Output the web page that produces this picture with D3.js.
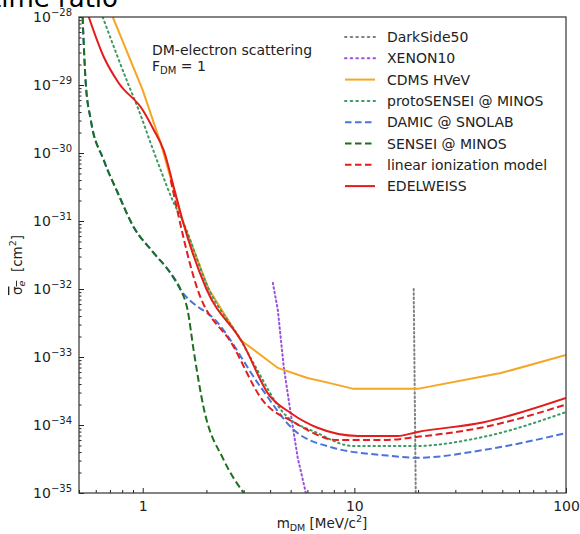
<!DOCTYPE html>
<html>
<head>
<meta charset="utf-8">
<script src="https://cdn.jsdelivr.net/npm/d3@7"></script>
<style>
  html, body { margin: 0; padding: 0; background: #fff; }
  svg { display: block; font-family: "DejaVu Sans", sans-serif; }
  text { fill: #222; }
</style>
</head>
<body>
<svg id="chart" width="580" height="534"></svg>
<script>
// Exclusion limits on the DM-electron cross section vs. DM mass (F_DM = 1)
const seriesNames = ["DarkSide50", "XENON10", "CDMS HVeV", "protoSENSEI @ MINOS",
  "DAMIC @ SNOLAB", "SENSEI @ MINOS", "linear ionization model", "EDELWEISS"];

// masses in MeV/c^2, cross sections in cm^2
const darkSideMass  = [19.07, 19.5];
const darkSideSigma = [1e-32, 1e-35];

const xenonMass  = [4.12, 4.35, 4.64, 5.0, 5.4, 5.9];
const xenonSigma = [1.23e-32, 4.9e-33, 7.1e-34, 1.5e-34, 3.3e-35, 1e-35];

const cdmsMass  = [0.722, 1.0, 1.216, 1.545, 2.05, 2.9, 4.35, 6.0, 7.5, 9.9, 19.9, 49.2, 100];
const cdmsSigma = [1e-28, 8.4e-30, 1.4e-30, 1e-31, 1e-32, 1.78e-33, 6.9e-34, 4.9e-34, 4.2e-34, 3.4e-34, 3.4e-34, 5.8e-34, 1.07e-33];

const protoMass  = [0.647, 0.85, 0.957, 1.09, 1.216, 1.386, 1.545, 2.05, 2.9, 3.34, 4.63, 6.7, 9.9, 19.0, 40.9, 100];
const protoSigma = [1e-28, 1.07e-29, 4.3e-30, 1.4e-30, 5.6e-31, 2e-31, 1e-31, 1e-32, 1.8e-33, 8.1e-34, 1.5e-34, 7.6e-35, 4.9e-35, 4.9e-35, 6.7e-35, 1.55e-34];

const damicMass  = [0.52, 0.538, 0.568, 0.654, 0.762, 0.907, 1.127, 1.356, 1.51, 2.26, 3.61, 5.17, 8.0, 13.7, 19.9, 40.9, 100];
const damicSigma = [1e-28, 1.07e-29, 3.1e-30, 7.9e-31, 2.6e-31, 8.1e-32, 3.4e-32, 1.7e-32, 9.8e-33, 3.2e-33, 3.6e-34, 8.5e-35, 4.6e-35, 3.6e-35, 3.3e-35, 4.3e-35, 7.6e-35];

const senseiMass  = [0.52, 0.538, 0.568, 0.654, 0.762, 0.907, 1.127, 1.356, 1.51, 1.63, 1.74, 1.94, 2.41, 3.0];
const senseiSigma = [1e-28, 1.07e-29, 3.1e-30, 7.9e-31, 2.6e-31, 8.1e-32, 3.4e-32, 1.7e-32, 9.8e-33, 4.9e-33, 1.26e-33, 1.8e-34, 3.1e-35, 1e-35];

const linearMass  = [1.356, 1.8, 2.66, 3.69, 5.17, 8.34, 13.8, 19.9, 40.9, 100];
const linearSigma = [4e-31, 1.07e-32, 1.5e-33, 2.3e-34, 1.1e-34, 6e-35, 6e-35, 6.7e-35, 9.3e-35, 2e-34];

const edelMass  = [0.556, 0.654, 0.77, 1.0, 1.127, 1.256, 1.40, 1.545, 2.0, 2.97, 3.94, 5.0, 6.7, 10.4, 16.0, 19.9, 40.9, 100];
const edelSigma = [1e-28, 2.6e-29, 1.07e-29, 4.3e-30, 2.2e-30, 1.1e-30, 3.2e-31, 1e-31, 1e-32, 1.6e-33, 2.8e-34, 1.5e-34, 9.1e-35, 6.9e-35, 6.9e-35, 7.9e-35, 1.1e-34, 2.5e-34];

const xTickValues = [1, 10, 100];
const xTickLabels = ["1", "10", "100"];
const yTickExponents = [-28, -29, -30, -31, -32, -33, -34, -35];

// line styles, in legend order
const styles = [
  { color: "#808080", dash: "1.5,2.8", curve: d3.curveLinear },
  { color: "#9a4fdc", dash: "1.5,3",   curve: d3.curveLinear },
  { color: "#f5a623", dash: null,      curve: d3.curveLinear },
  { color: "#3d9a62", dash: "1.5,3.6", curve: d3.curveMonotoneX },
  { color: "#4a74dc", dash: "7,3.4",   curve: d3.curveMonotoneX },
  { color: "#1c6f1c", dash: "7,3.4",   curve: d3.curveMonotoneX },
  { color: "#e41c1c", dash: "7,3.4",   curve: d3.curveMonotoneX },
  { color: "#e41c1c", dash: null,      curve: d3.curveMonotoneX }
];
const isDotted = st => st.dash && st.dash.startsWith("1.5");

const masses = [darkSideMass, xenonMass, cdmsMass, protoMass, damicMass, senseiMass, linearMass, edelMass];
const sigmas = [darkSideSigma, xenonSigma, cdmsSigma, protoSigma, damicSigma, senseiSigma, linearSigma, edelSigma];
const series = seriesNames.map((name, i) => ({
  name, style: styles[i],
  points: masses[i].map((m, j) => ({ m, s: sigmas[i][j] }))
}));

const svg = d3.select("#chart");
const plot = { left: 79, right: 566, top: 17, bottom: 493 };

const x = d3.scaleLog().domain([0.5, 100]).range([plot.left, plot.right]);
const y = d3.scaleLog().domain([1e-35, 1e-28]).range([plot.bottom, plot.top]);

// slide title above the chart, partly cut off by the top edge
svg.append("text").attr("x", 118).attr("y", 6.5).attr("text-anchor", "end")
  .attr("font-size", 26).style("fill", "#000").text("time ratio");

svg.append("clipPath").attr("id", "plotClip").append("rect")
  .attr("x", plot.left).attr("y", plot.top)
  .attr("width", plot.right - plot.left).attr("height", plot.bottom - plot.top);

// ticks (inward), log minor ticks included
const xMinor = [];
[0.1, 1, 10].forEach(d => { for (let k = 1; k < 10; k++) { const v = d * k; if (v >= 0.5 && v <= 100) xMinor.push(v); } });
svg.append("g").attr("transform", `translate(0,${plot.bottom})`)
  .call(d3.axisBottom(x).tickValues(xMinor.filter(v => !xTickValues.includes(v))).tickSize(-3).tickFormat(""))
  .call(g => g.select(".domain").remove())
  .call(g => g.selectAll("line").attr("stroke", "#222"));
svg.append("g").attr("transform", `translate(0,${plot.bottom})`)
  .call(d3.axisBottom(x).tickValues(xTickValues).tickSize(-5)
    .tickFormat((d, i) => xTickLabels[i]).tickPadding(8))
  .call(g => g.select(".domain").remove())
  .call(g => g.selectAll("line").attr("stroke", "#222"))
  .call(g => g.selectAll("text").attr("font-size", 14).attr("font-family", "DejaVu Sans").style("fill", "#222"));

const yMinor = [];
yTickExponents.slice(1).forEach(e => { for (let k = 2; k < 10; k++) yMinor.push(k * Math.pow(10, e)); });
svg.append("g").attr("transform", `translate(${plot.left},0)`)
  .call(d3.axisLeft(y).tickValues(yMinor).tickSize(-2.5).tickFormat(""))
  .call(g => g.select(".domain").remove())
  .call(g => g.selectAll("line").attr("stroke", "#222"));
svg.append("g").attr("transform", `translate(${plot.left},0)`)
  .call(d3.axisLeft(y).tickValues(yTickExponents.map(e => Math.pow(10, e))).tickSize(-5).tickFormat(""))
  .call(g => g.select(".domain").remove())
  .call(g => g.selectAll("line").attr("stroke", "#222"));
yTickExponents.forEach(e => {
  const t = svg.append("text").attr("x", 72).attr("y", y(Math.pow(10, e)) + 5)
    .attr("text-anchor", "end").attr("font-size", 14);
  t.append("tspan").text("10");
  t.append("tspan").attr("font-size", 10).attr("dy", -6).text("\u2212" + Math.abs(e));
});

// curves
const line = d3.line().x(d => x(d.m)).y(d => y(d.s));
const curves = svg.append("g").attr("clip-path", "url(#plotClip)");
series.forEach(sr => {
  curves.append("path").datum(sr.points)
    .attr("d", line.curve(sr.style.curve))
    .attr("fill", "none")
    .attr("stroke", sr.style.color)
    .attr("stroke-width", 2)
    .attr("stroke-dasharray", sr.style.dash)
    .attr("stroke-linecap", isDotted(sr.style) ? "round" : "butt");
});

// frame
svg.append("rect").attr("x", plot.left).attr("y", plot.top)
  .attr("width", plot.right - plot.left).attr("height", plot.bottom - plot.top)
  .attr("fill", "none").attr("stroke", "#333").attr("stroke-width", 1.2);

// annotation
svg.append("text").attr("x", 152).attr("y", 55).attr("font-size", 14).text("DM-electron scattering");
const fdm = svg.append("text").attr("x", 152).attr("y", 71).attr("font-size", 14);
fdm.append("tspan").text("F");
fdm.append("tspan").attr("font-size", 10).attr("dy", 3).text("DM");
fdm.append("tspan").attr("dy", -3).text(" = 1");

// legend
const legend = svg.append("g");
series.forEach((sr, i) => {
  const ly = 37 + i * 21.3;
  legend.append("line").attr("x1", 345).attr("x2", 375).attr("y1", ly).attr("y2", ly)
    .attr("stroke", sr.style.color).attr("stroke-width", 2)
    .attr("stroke-dasharray", sr.style.dash ? (isDotted(sr.style) ? "1.5,4.2" : "6.5,3.5") : null)
    .attr("stroke-linecap", isDotted(sr.style) ? "round" : "butt");
  legend.append("text").attr("x", 387).attr("y", ly + 5).attr("font-size", 14).text(sr.name);
});

// axis labels
const xl = svg.append("text").attr("x", 322).attr("y", 528).attr("text-anchor", "middle").attr("font-size", 13.5);
xl.append("tspan").text("m");
xl.append("tspan").attr("font-size", 9.5).attr("dy", 3).text("DM");
xl.append("tspan").attr("dy", -3).text(" [MeV/c");
xl.append("tspan").attr("font-size", 9.5).attr("dy", -6).text("2");
xl.append("tspan").attr("dy", 6).text("]");

const yl = svg.append("text").attr("transform", "translate(22,265) rotate(-90)")
  .attr("text-anchor", "middle").attr("font-size", 13.5);
yl.append("tspan").style("text-decoration", "overline").text("\u03c3");
yl.append("tspan").attr("font-size", 9.5).attr("dy", 3).attr("font-style", "italic").style("text-decoration", "overline").text("e");
yl.append("tspan").attr("dy", -3).text("\u00a0\u00a0[cm");
yl.append("tspan").attr("font-size", 9.5).attr("dy", -6).text("2");
yl.append("tspan").attr("dy", 6).text("]");
</script>
</body>
</html>
